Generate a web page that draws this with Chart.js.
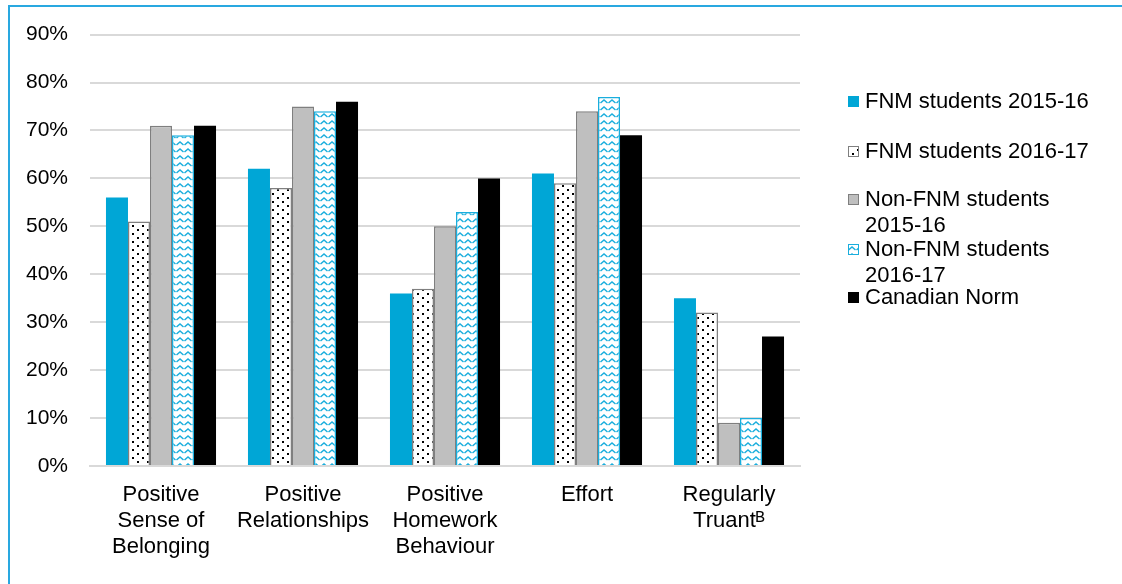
<!DOCTYPE html>
<html>
<head>
<meta charset="utf-8">
<script src="https://cdn.jsdelivr.net/npm/chart.js@4"></script>
<style>
  html, body { margin: 0; padding: 0; background: #fff; overflow: hidden; }
  #frame { position: absolute; left: 8px; top: 5px; width: 1114px; height: 579px;
           border-top: 2px solid #29A8E0; border-left: 2px solid #29A8E0; box-sizing: border-box; }
  #wrap { position: absolute; left: 0; top: 0; width: 1122px; height: 584px; }
</style>
</head>
<body>
<div id="frame"></div>
<div id="wrap"><canvas id="surveyChart" width="1122" height="584"></canvas></div>
<script>
// categories
const categories = [
    ['Positive', 'Sense of', 'Belonging'],
    ['Positive', 'Relationships'],
    ['Positive', 'Homework', 'Behaviour'],
    ['Effort'],
    ['Regularly', 'Truant\u1D2E']
]
// series values (percent)
const fnm_2015 = [56, 62, 36, 61, 35]
const fnm_2016 = [51, 58, 37, 59, 32]
const non_fnm_2015 = [71, 75, 50, 74, 9]
const non_fnm_2016 = [69, 74, 53, 77, 10]
const canadian_norm = [71, 76, 60, 69, 27]
// legend labels
const series_labels = [
    ['FNM students 2015-16'],
    ['FNM students 2016-17'],
    ['Non-FNM students', '2015-16'],
    ['Non-FNM students', '2016-17'],
    ['Canadian Norm']
]
// y ticks
const y_max = 90
const y_step = 10

const FONT = '"Liberation Sans", Arial, Helvetica, sans-serif'
const BLUE = '#00A6D6'

function dotPattern(){
    const c = document.createElement('canvas')
    c.width = 10; c.height = 8
    const g = c.getContext('2d')
    g.fillStyle = '#fff'
    g.fillRect(0, 0, 10, 8)
    g.fillStyle = '#000'
    g.fillRect(2, 1, 2, 2)
    g.fillRect(7, 5, 2, 2)
    return g.createPattern(c, 'repeat')
}

function wavePattern(){
    const c = document.createElement('canvas')
    c.width = 8; c.height = 7
    const g = c.getContext('2d')
    g.fillStyle = '#fff'
    g.fillRect(0, 0, 8, 7)
    g.strokeStyle = '#1AAEDD'
    g.lineWidth = 1.5
    g.beginPath()
    g.moveTo(0.5, 5)
    g.lineTo(4, 2)
    g.lineTo(7.5, 5)
    g.stroke()
    return g.createPattern(c, 'repeat')
}

// legend drawn on the canvas so patterns show in swatches
const sideLegend = {
    id: 'sideLegend',
    afterDraw(chart){
        const ctx = chart.ctx
        const x = 848
        const rows = [102, 152, 200, 250, 298]
        ctx.save()
        ctx.font = '22px ' + FONT
        ctx.textBaseline = 'middle'
        chart.data.datasets.forEach((ds, i) => {
            const y = rows[i]
            ctx.fillStyle = ds.backgroundColor
            ctx.fillRect(x, y - 6, 11, 11)
            ctx.strokeStyle = ds.borderColor
            ctx.lineWidth = 1
            ctx.strokeRect(x + 0.5, y - 5.5, 10, 10)
            ctx.fillStyle = '#000'
            series_labels[i].forEach((line, j) => {
                ctx.fillText(line, x + 17, y + j * 26)
            })
        })
        ctx.restore()
    }
}

const ctx = document.getElementById('surveyChart').getContext('2d')
const myChart = new Chart(ctx, {
    type: 'bar',
    data: {
        labels: categories,
        datasets: [
            { label: 'FNM students 2015-16', data: fnm_2015, backgroundColor: BLUE, borderColor: BLUE, borderWidth: 0 },
            { label: 'FNM students 2016-17', data: fnm_2016, backgroundColor: dotPattern(), borderColor: '#7F7F7F', borderWidth: 1.5 },
            { label: 'Non-FNM students 2015-16', data: non_fnm_2015, backgroundColor: '#BFBFBF', borderColor: '#7F7F7F', borderWidth: 1.5 },
            { label: 'Non-FNM students 2016-17', data: non_fnm_2016, backgroundColor: wavePattern(), borderColor: '#1AAEDD', borderWidth: 1.5 },
            { label: 'Canadian Norm', data: canadian_norm, backgroundColor: '#000', borderColor: '#000', borderWidth: 0 }
        ]
    },
    options: {
        responsive: false,
        animation: false,
        events: [],
        layout: { padding: { left: 0, right: 322, top: 34, bottom: 0 } },
        categoryPercentage: 0.775,
        barPercentage: 1,
        plugins: {
            legend: { display: false },
            title: { display: false },
            tooltip: { enabled: false }
        },
        scales: {
            x: {
                grid: { display: false },
                border: { display: true, color: '#D9D9D9', width: 2 },
                ticks: {
                    color: '#000',
                    font: { family: FONT, size: 22, lineHeight: 1.18 },
                    padding: 8,
                    maxRotation: 0,
                    autoSkip: false
                },
                afterFit(scale){ scale.height = 584 - 466 }
            },
            y: {
                min: 0,
                max: y_max,
                border: { display: false },
                grid: { color: '#D9D9D9', lineWidth: 2, drawTicks: false },
                ticks: {
                    stepSize: y_step,
                    color: '#000',
                    font: { family: FONT, size: 21 },
                    padding: 22,
                    callback: v => v + '%'
                },
                afterFit(scale){ scale.width = 90 }
            }
        }
    },
    plugins: [sideLegend]
})
</script>
</body>
</html>
